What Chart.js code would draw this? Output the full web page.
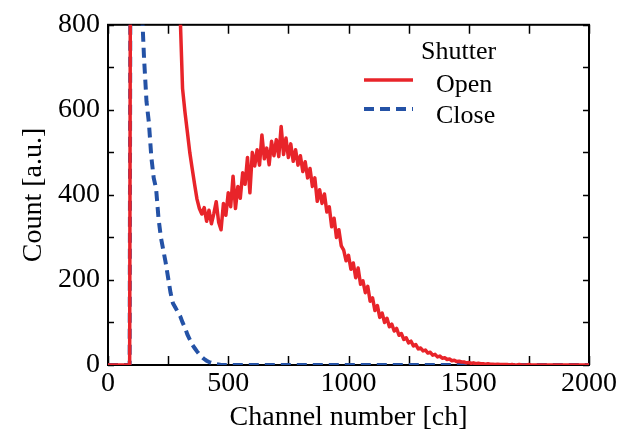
<!DOCTYPE html>
<html>
<head>
<meta charset="utf-8">
<script src="https://cdn.jsdelivr.net/npm/chart.js@4.4.1/dist/chart.umd.min.js"></script>
<style>
  html, body { margin: 0; padding: 0; background: #fff; }
  #wrap { width: 626px; height: 434px; position: relative; }
</style>
</head>
<body>
<div id="wrap"><canvas id="specChart"></canvas></div>
<script>
// channel grid, one point every 10 ch
const channels = Array.from({ length: 201 }, (_, i) => i * 10);

// Shutter open (red, solid)
const openCounts = [
    0, 0, 0, 0, 0, 0, 0, 0, 0, 0,
    3000, 2800, 2600, 2400, 2200, 2000, 1800, 1650, 1500, 1380,
    1260, 1150, 1060, 1000, 960, 930, 905, 885, 865, 850,
    825, 650, 595, 548, 500, 462, 425, 390, 368, 355,
    370, 338, 364, 332, 356, 384, 336, 318, 380, 352,
    405, 372, 444, 368, 420, 392, 452, 425, 488, 405,
    500, 468, 506, 470, 541, 485, 510, 471, 526, 492,
    530, 490, 561, 495, 534, 488, 520, 479, 506, 470,
    492, 455, 478, 440, 462, 420, 440, 385, 412, 380,
    402, 360, 372, 325, 345, 300, 318, 280, 270, 245,
    258, 225, 240, 205, 228, 190, 198, 170, 185, 150,
    158, 128, 140, 112, 122, 100, 110, 90, 96, 80,
    86, 70, 74, 60, 64, 52, 56, 45, 48, 38,
    40, 33, 35, 28, 30, 23, 25, 19, 21, 16,
    17, 13, 14, 10, 11, 8, 9, 7, 7, 5,
    6, 4, 5, 3, 4, 3, 3, 2, 3, 2,
    2, 1, 2, 1, 1, 1, 1, 0, 1, 0,
    0, 1, 0, 0, 0, 1, 0, 0, 0, 0,
    0, 0, 0, 0, 0, 0, 0, 0, 0, 0,
    0, 0, 0, 0, 0, 0, 0, 0, 0, 0,
    0
];

// Shutter close (blue, dashed)
const closeCounts = [
    0, 0, 0, 0, 0, 0, 0, 0, 0, 0,
    3000, 2200, 1500, 1100, 850, 720, 620, 570, 490, 440,
    415, 345, 300, 270, 240, 205, 170, 145, 135, 125,
    115, 100, 88, 72, 60, 48, 40, 32, 25, 19,
    14, 10, 7, 5, 3, 2, 1, 0, 0, 0,
    0, 0, 0, 0, 0, 0, 0, 0, 0, 0,
    0, 0, 0, 0, 0, 0, 0, 0, 0, 0,
    0, 0, 0, 0, 0, 0, 0, 0, 0, 0,
    0, 0, 0, 0, 0, 0, 0, 0, 0, 0,
    0, 0, 0, 0, 0, 0, 0, 0, 0, 0,
    0, 0, 0, 0, 0, 0, 0, 0, 0, 0,
    0, 0, 0, 0, 0, 0, 0, 0, 0, 0,
    0, 0, 0, 0, 0, 0, 0, 0, 0, 0,
    0, 0, 0, 0, 0, 0, 0, 0, 0, 0,
    0, 0, 0, 0, 0, 0, 0, 0, 0, 0,
    0, 0, 0, 0, 0, 0, 0, 0, 0, 0,
    0, 0, 0, 0, 0, 0, 0, 0, 0, 0,
    0, 0, 0, 0, 0, 0, 0, 0, 0, 0,
    0, 0, 0, 0, 0, 0, 0, 0, 0, 0,
    0, 0, 0, 0, 0, 0, 0, 0, 0, 0,
    0
];

const xLabelTicks = [0, 500, 1000, 1500, 2000];
const yLabelTicks = [0, 200, 400, 600, 800];
const legendTitle = 'Shutter';
const seriesNames = ['Open', 'Close'];

const RED = '#e8242a';
const BLUE = '#2452a6';
const SERIF = "'Liberation Serif', 'Times New Roman', serif";

Chart.defaults.font.family = SERIF;
Chart.defaults.color = '#000';

// ── box frame + inward ticks ──
const frameTicks = {
    id: 'frameTicks',
    beforeDatasetsDraw(chart) {
        const { ctx, chartArea: a, scales: { x, y } } = chart;
        ctx.save();
        ctx.strokeStyle = '#000';
        ctx.lineWidth = 2;
        ctx.strokeRect(a.left, a.top, a.right - a.left, a.bottom - a.top);
        ctx.lineWidth = 1.5;
        ctx.beginPath();
        x.ticks.forEach(t => {
            const px = Math.round(x.getPixelForValue(t.value)) + 0.5;
            ctx.moveTo(px, a.bottom); ctx.lineTo(px, a.bottom - 9);
            ctx.moveTo(px, a.top); ctx.lineTo(px, a.top + 9);
        });
        y.ticks.forEach(t => {
            const py = Math.round(y.getPixelForValue(t.value)) + 0.5;
            ctx.moveTo(a.left, py); ctx.lineTo(a.left + 6, py);
            ctx.moveTo(a.right, py); ctx.lineTo(a.right - 6, py);
        });
        ctx.stroke();
        ctx.restore();
    }
};

// ── legend inside the plot ──
const innerLegend = {
    id: 'innerLegend',
    afterDraw(chart) {
        const ctx = chart.ctx;
        ctx.save();
        ctx.font = `26px ${SERIF}`;
        ctx.fillStyle = '#000';
        ctx.textAlign = 'left';
        ctx.textBaseline = 'alphabetic';
        ctx.fillText(legendTitle, 421, 59);
        ctx.fillText(seriesNames[0], 436, 92);
        ctx.fillText(seriesNames[1], 436, 123);

        ctx.lineWidth = 3.5;
        ctx.strokeStyle = RED;
        ctx.beginPath(); ctx.moveTo(364, 80); ctx.lineTo(413, 80); ctx.stroke();

        ctx.strokeStyle = BLUE;
        ctx.lineWidth = 4;
        ctx.setLineDash([10, 6]);
        ctx.beginPath(); ctx.moveTo(364, 109); ctx.lineTo(413, 109); ctx.stroke();
        ctx.restore();
    }
};

const toPoints = arr => arr.map((v, i) => ({ x: channels[i], y: v }));

const ctx = document.getElementById('specChart').getContext('2d');
new Chart(ctx, {
    type: 'line',
    data: {
        datasets: [
            {
                label: seriesNames[0],
                data: toPoints(openCounts),
                borderColor: RED,
                borderWidth: 3.5,
                borderJoinStyle: 'round',
                pointRadius: 0,
                tension: 0,
                fill: false
            },
            {
                label: seriesNames[1],
                data: toPoints(closeCounts),
                borderColor: BLUE,
                borderWidth: 4,
                borderDash: [10, 6],
                pointRadius: 0,
                tension: 0,
                fill: false
            }
        ]
    },
    options: {
        responsive: true,
        maintainAspectRatio: false,
        animation: false,
        events: [],
        layout: { padding: { top: 23, right: 37, left: 0, bottom: 0 } },
        plugins: {
            legend: { display: false },
            tooltip: { enabled: false }
        },
        scales: {
            x: {
                type: 'linear',
                min: 0,
                max: 2000,
                grid: { display: false, drawTicks: false },
                border: { display: false },
                ticks: {
                    stepSize: 250,
                    padding: 2,
                    maxRotation: 0,
                    autoSkip: false,
                    font: { size: 28 },
                    callback: v => xLabelTicks.includes(v) ? String(v) : ''
                },
                title: {
                    display: true,
                    text: 'Channel number [ch]',
                    font: { size: 28 },
                    padding: { top: 0, bottom: 0 }
                },
                afterFit: s => { s.height = 69; }
            },
            y: {
                min: 0,
                max: 800,
                grid: { display: false, drawTicks: false },
                border: { display: false },
                ticks: {
                    stepSize: 100,
                    padding: 8,
                    autoSkip: false,
                    font: { size: 28 },
                    callback: v => yLabelTicks.includes(v) ? String(v) : ''
                },
                title: {
                    display: true,
                    text: 'Count [a.u.]',
                    font: { size: 28 },
                    padding: { top: 17, bottom: 0 }
                },
                afterFit: s => { s.width = 108; }
            }
        }
    },
    plugins: [frameTicks, innerLegend]
});
</script>
</body>
</html>
